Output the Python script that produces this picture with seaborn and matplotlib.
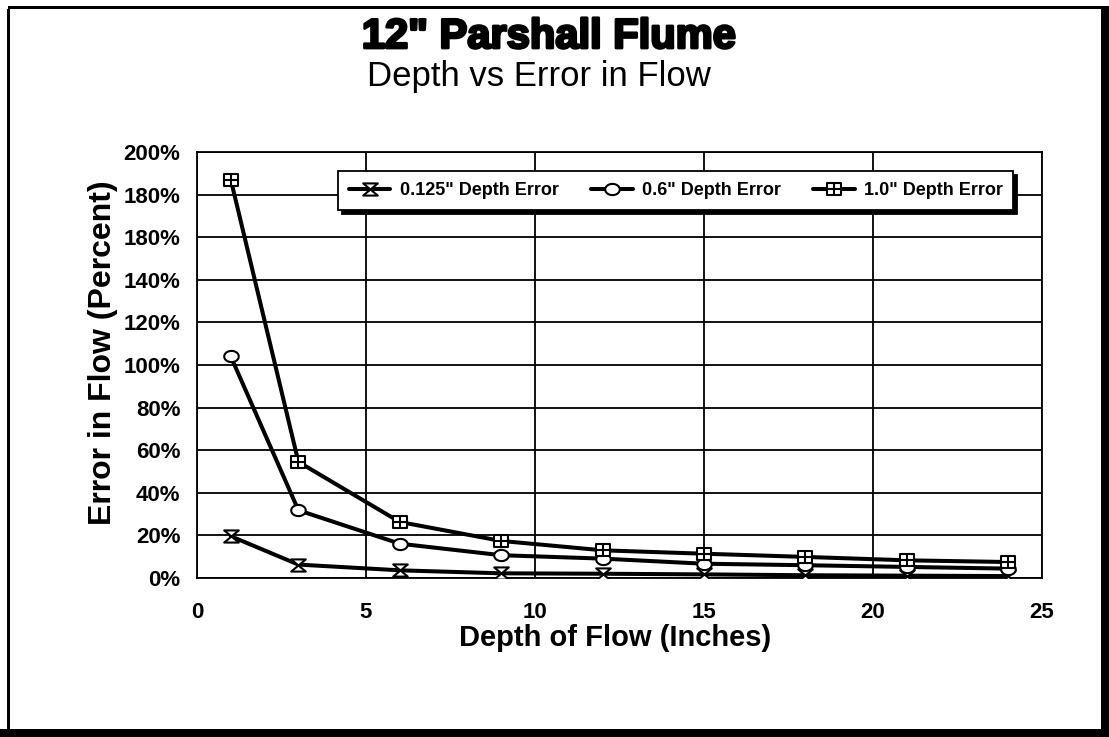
import numpy as np
import pandas as pd
import matplotlib
matplotlib.use("Agg")
import matplotlib.pyplot as plt
import matplotlib.patheffects as pe
from matplotlib.path import Path
from matplotlib.patches import Rectangle
from matplotlib.ticker import MultipleLocator, FixedLocator, FixedFormatter
import seaborn as sns

# Depth of flow (inches) and percent error in computed flow
depth = [1, 3, 6, 9, 12, 15, 18, 21, 24]
err_0125 = [19.6, 6.3, 3.6, 2.2, 2.0, 1.7, 1.3, 1.1, 0.9]
err_06 = [104, 31.8, 16.1, 10.7, 9.1, 6.7, 6.0, 5.2, 4.4]
err_10 = [187, 54.5, 26.3, 17.4, 13.0, 11.4, 9.9, 8.3, 7.5]

series_names = ['0.125" Depth Error', '0.6" Depth Error', '1.0" Depth Error']
y_ticks = [0, 20, 40, 60, 80, 100, 120, 140, 160, 180, 200]
y_tick_labels = ["0%", "20%", "40%", "60%", "80%", "100%", "120%", "140%",
                 "180%", "180%", "200%"]
x_ticks = [0, 5, 10, 15, 20, 25]

sns.set_theme(style="white")
plt.rcParams["font.family"] = ["Liberation Sans", "DejaVu Sans"]
for key in ("text.color", "axes.labelcolor", "xtick.color", "ytick.color"):
    plt.rcParams[key] = "black"

# Custom marker shapes
hourglass = Path([(-1.2, 1), (1.2, 1), (-1.2, -1), (1.2, -1), (-1.2, 1)],
                 [Path.MOVETO, Path.LINETO, Path.LINETO, Path.LINETO, Path.CLOSEPOLY])
t = np.linspace(0, 2 * np.pi, 40)
ellipse = Path(np.column_stack([1.3 * np.cos(t), np.sin(t)]))
boxplus = Path(
    [(-1.3, -1), (1.3, -1), (1.3, 1), (-1.3, 1), (-1.3, -1),
     (-1.3, 0), (1.3, 0), (0, -1), (0, 1)],
    [Path.MOVETO, Path.LINETO, Path.LINETO, Path.LINETO, Path.CLOSEPOLY,
     Path.MOVETO, Path.LINETO, Path.MOVETO, Path.LINETO])
markers = [hourglass, ellipse, boxplus]

df = pd.DataFrame({
    "depth": depth * 3,
    "error": err_0125 + err_06 + err_10,
    "series": np.repeat(series_names, len(depth)),
})

fig = plt.figure(figsize=(11.09, 7.37), dpi=100)
ax = fig.add_axes([197 / 1109, 1 - 578 / 737, 845 / 1109, 426 / 737])

for name, mk in zip(series_names, markers):
    sub = df[df["series"] == name]
    sns.lineplot(data=sub, x="depth", y="error", ax=ax, color="black",
                 linewidth=2.9, marker=mk, markersize=10.5,
                 markerfacecolor="white", markeredgecolor="black",
                 markeredgewidth=1.5, label=name, zorder=3)

ax.set_xlim(0, 25)
ax.set_ylim(0, 200)

ax.xaxis.set_major_locator(FixedLocator(x_ticks))
ax.xaxis.set_minor_locator(MultipleLocator(2.5))
ax.yaxis.set_major_locator(FixedLocator(y_ticks))
ax.yaxis.set_major_formatter(FixedFormatter(y_tick_labels))
ax.yaxis.set_minor_locator(MultipleLocator(10))

ax.grid(True, which="major", color="black", linewidth=1.3)
for s in ax.spines.values():
    s.set_color("black")
    s.set_linewidth(1.3)

ax.tick_params(axis="both", which="major", direction="out", length=5,
               width=1.3, color="black", labelsize=16, labelcolor="black")
ax.tick_params(axis="both", which="minor", direction="inout", length=6,
               width=1.2, color="black")
ax.tick_params(axis="x", which="major", pad=12)
ax.tick_params(axis="y", which="major", pad=7)
for lab in ax.get_xticklabels() + ax.get_yticklabels():
    lab.set_fontweight("bold")

ax.set_xlabel("Depth of Flow (Inches)", fontsize=21, fontweight="bold")
ax.set_ylabel("Error in Flow (Percent)", fontsize=23, fontweight="bold")
ax.xaxis.set_label_coords(0.495, -0.107)
ax.yaxis.set_label_coords(-0.094, 0.53)

leg = ax.legend(loc="upper left", bbox_to_anchor=(0.167, 0.905, 0.799, 0.05),
                mode="expand", ncol=3, frameon=True, fontsize=13,
                handlelength=2.3, handletextpad=0.5, columnspacing=1.0,
                borderpad=0.6, borderaxespad=0, fancybox=False,
                shadow={"color": "black", "alpha": 1, "ox": 3, "oy": -3})
leg.get_frame().set_edgecolor("black")
leg.get_frame().set_linewidth(1.3)
for txt in leg.get_texts():
    txt.set_fontweight("bold")

fig.text(0.495, 1 - 48 / 737, '12" Parshall Flume', ha="center", va="baseline",
         fontsize=30, fontweight="bold",
         path_effects=[pe.withStroke(linewidth=2, foreground="black")])
fig.text(0.486, 1 - 86 / 737, "Depth vs Error in Flow", ha="center",
         va="baseline", fontsize=25)

# Page frame around the figure
W, H = 1109, 737
def frame_rect(x0, y0, x1, y1):
    fig.add_artist(Rectangle((x0 / W, 1 - y1 / H), (x1 - x0) / W, (y1 - y0) / H,
                             transform=fig.transFigure, facecolor="black",
                             edgecolor="none"))
frame_rect(8, 6, 1109, 9)
frame_rect(7, 9, 10, 737)
frame_rect(1101, 6, 1109, 737)
frame_rect(0, 729, 1109, 737)

fig.savefig("out.png", dpi=100)
